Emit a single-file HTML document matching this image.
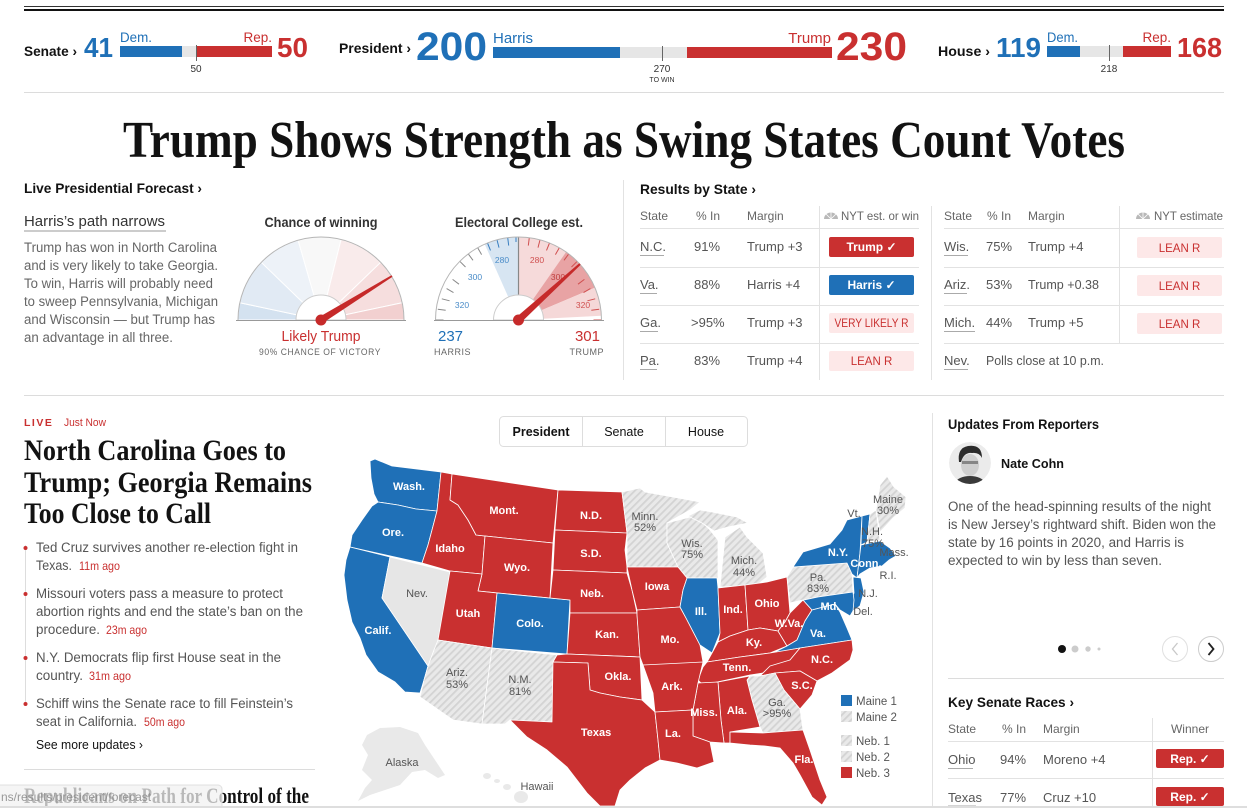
<!DOCTYPE html>
<html><head><meta charset="utf-8"><style>
html,body{margin:0;padding:0;background:#fff;overflow:hidden;width:1247px;height:808px}
svg{display:block}
.w{fill:#fff;font-size:11px;text-anchor:middle;font-weight:bold}
.g{fill:#555;font-size:11px;text-anchor:middle}
.st{stroke:#fff;stroke-width:0.8;stroke-linejoin:round}
.r{fill:#c93030}.b{fill:#1f70b7}.h{fill:url(#hatch)}
.tx{font-size:13px;fill:#555}
.hd{font-size:12px;fill:#666}
.ul{stroke:#aaa;stroke-width:1}
.rl{stroke:#e2e2e2;stroke-width:1}
.vl{stroke:#e2e2e2;stroke-width:1}
.bt{font-size:13.5px;fill:#555}
.tm{font-size:12px;fill:#c93030}
</style></head><body>
<svg width="1247" height="808" viewBox="0 0 1247 808" xmlns="http://www.w3.org/2000/svg" font-family="'Liberation Sans', Arial, sans-serif">
<defs>
<pattern id="hatch" width="5" height="5" patternUnits="userSpaceOnUse" patternTransform="rotate(45)">
<rect width="5" height="5" fill="#e9e9e9"/><rect width="1.8" height="5" fill="#d3d3d3"/>
</pattern>
<clipPath id="av"><circle cx="970" cy="463" r="21"/></clipPath>
</defs>
<rect width="1247" height="808" fill="#fff"/>

<!-- top rules -->
<line x1="24" y1="6.5" x2="1224" y2="6.5" stroke="#333" stroke-width="1"/>
<line x1="24" y1="10" x2="1224" y2="10" stroke="#121212" stroke-width="2"/>

<!-- Senate -->
<text x="24" y="56" font-size="14" font-weight="bold" fill="#121212" textLength="53" lengthAdjust="spacingAndGlyphs">Senate ›</text>
<text x="84" y="57" font-size="28" font-weight="bold" fill="#1f70b7" textLength="29" lengthAdjust="spacingAndGlyphs">41</text>
<text x="120" y="42" font-size="13.5" fill="#1f70b7" textLength="32" lengthAdjust="spacingAndGlyphs">Dem.</text>
<rect x="120" y="46" width="62" height="11" fill="#1f70b7"/>
<rect x="182" y="46" width="14" height="11" fill="#e6e6e6"/>
<rect x="196" y="46" width="76" height="11" fill="#c93030"/>
<line x1="196.5" y1="45" x2="196.5" y2="61" stroke="#666" stroke-width="1"/>
<text x="196" y="72" font-size="10" text-anchor="middle" fill="#333">50</text>
<text x="272" y="42" font-size="13.5" fill="#c93030" text-anchor="end">Rep.</text>
<text x="277" y="57" font-size="28" font-weight="bold" fill="#c93030" textLength="31" lengthAdjust="spacingAndGlyphs">50</text>

<!-- President -->
<text x="339" y="53" font-size="14" font-weight="bold" fill="#121212" textLength="72" lengthAdjust="spacingAndGlyphs">President ›</text>
<text x="416" y="60" font-size="40" font-weight="bold" fill="#1f70b7" textLength="71" lengthAdjust="spacingAndGlyphs">200</text>
<text x="493" y="43" font-size="15" fill="#1f70b7">Harris</text>
<rect x="493" y="47" width="127" height="11" fill="#1f70b7"/>
<rect x="620" y="47" width="67" height="11" fill="#e6e6e6"/>
<rect x="687" y="47" width="145" height="11" fill="#c93030"/>
<line x1="662.5" y1="46" x2="662.5" y2="61" stroke="#666" stroke-width="1"/>
<text x="662" y="72" font-size="10" text-anchor="middle" fill="#333">270</text>
<text x="662" y="82" font-size="7" text-anchor="middle" fill="#333">TO WIN</text>
<text x="831" y="43" font-size="15" fill="#c93030" text-anchor="end">Trump</text>
<text x="836" y="60" font-size="40" font-weight="bold" fill="#c93030" textLength="71" lengthAdjust="spacingAndGlyphs">230</text>

<!-- House -->
<text x="938" y="56" font-size="14" font-weight="bold" fill="#121212" textLength="52" lengthAdjust="spacingAndGlyphs">House ›</text>
<text x="996" y="57" font-size="28" font-weight="bold" fill="#1f70b7" textLength="45" lengthAdjust="spacingAndGlyphs">119</text>
<text x="1047" y="42" font-size="13.5" fill="#1f70b7" textLength="31" lengthAdjust="spacingAndGlyphs">Dem.</text>
<rect x="1047" y="46" width="33" height="11" fill="#1f70b7"/>
<rect x="1080" y="46" width="43" height="11" fill="#e6e6e6"/>
<rect x="1123" y="46" width="48" height="11" fill="#c93030"/>
<line x1="1109.5" y1="45" x2="1109.5" y2="61" stroke="#666" stroke-width="1"/>
<text x="1109" y="72" font-size="10" text-anchor="middle" fill="#333">218</text>
<text x="1171" y="42" font-size="13.5" fill="#c93030" text-anchor="end">Rep.</text>
<text x="1177" y="57" font-size="28" font-weight="bold" fill="#c93030" textLength="45" lengthAdjust="spacingAndGlyphs">168</text>

<line x1="24" y1="92.5" x2="1224" y2="92.5" stroke="#dcdcdc" stroke-width="1"/>

<!-- Headline -->
<text x="123" y="157" font-family="'Liberation Serif', serif" font-weight="bold" font-size="52" fill="#121212" textLength="1002" lengthAdjust="spacingAndGlyphs">Trump Shows Strength as Swing States Count Votes</text>

<!-- Forecast -->
<text x="24" y="193" font-size="14" font-weight="bold" fill="#121212" textLength="178" lengthAdjust="spacingAndGlyphs">Live Presidential Forecast ›</text>
<text x="24" y="226" font-size="15" fill="#333" textLength="141" lengthAdjust="spacingAndGlyphs">Harris’s path narrows</text>
<line x1="24" y1="231" x2="166" y2="231" stroke="#ccc" stroke-width="2"/>
<g font-size="13.5" fill="#666">
<text x="24" y="252" textLength="193" lengthAdjust="spacingAndGlyphs">Trump has won in North Carolina</text>
<text x="24" y="270" textLength="194" lengthAdjust="spacingAndGlyphs">and is very likely to take Georgia.</text>
<text x="24" y="288" textLength="189" lengthAdjust="spacingAndGlyphs">To win, Harris will probably need</text>
<text x="24" y="306" textLength="194" lengthAdjust="spacingAndGlyphs">to sweep Pennsylvania, Michigan</text>
<text x="24" y="324" textLength="191" lengthAdjust="spacingAndGlyphs">and Wisconsin — but Trump has</text>
<text x="24" y="342" textLength="149" lengthAdjust="spacingAndGlyphs">an advantage in all three.</text>
</g>

<!-- Gauge 1 -->
<text x="321" y="227" font-size="14" font-weight="bold" fill="#333" text-anchor="middle" textLength="113" lengthAdjust="spacingAndGlyphs">Chance of winning</text>
<g stroke="#fff" stroke-width="1">
<path d="M321,320 L238,320 A83,83 0 0 1 239.8,302.7 Z" fill="#d4e2f0"/>
<path d="M321,320 L239.8,302.7 A83,83 0 0 1 261.3,262.3 Z" fill="#e1eaf4"/>
<path d="M321,320 L261.3,262.3 A83,83 0 0 1 298.1,240.2 Z" fill="#edf2f8"/>
<path d="M321,320 L298.1,240.2 A83,83 0 0 1 341.1,239.5 Z" fill="#f8f8f8"/>
<path d="M321,320 L341.1,239.5 A83,83 0 0 1 380.7,262.3 Z" fill="#f9ebeb"/>
<path d="M321,320 L380.7,262.3 A83,83 0 0 1 402.2,302.7 Z" fill="#f6dede"/>
<path d="M321,320 L402.2,302.7 A83,83 0 0 1 404,320 Z" fill="#f2d0d0"/>
</g>
<path d="M238,320 A83,83 0 0 1 404,320" fill="none" stroke="#b5b5b5" stroke-width="1"/>
<path d="M296,320 A25,25 0 0 1 346,320 Z" fill="#fff" stroke="#ccc" stroke-width="1"/>
<line x1="236" y1="320.5" x2="406" y2="320.5" stroke="#999" stroke-width="1"/>
<polygon points="322.8,323 319.2,317 391.5,275.2 392.5,276.8" fill="#c62a2a"/>
<circle cx="321" cy="320" r="5.5" fill="#c62a2a"/>
<text x="321" y="341" font-size="15" fill="#c93030" text-anchor="middle" textLength="79" lengthAdjust="spacingAndGlyphs">Likely Trump</text>
<text x="320" y="355" font-size="9" fill="#666" text-anchor="middle" letter-spacing="0.6" textLength="122" lengthAdjust="spacingAndGlyphs">90% CHANCE OF VICTORY</text>

<!-- Gauge 2 -->
<text x="519" y="227" font-size="14" font-weight="bold" fill="#333" text-anchor="middle" textLength="128" lengthAdjust="spacingAndGlyphs">Electoral College est.</text>
<path d="M435.5,320 A83,83 0 0 1 601.5,320 Z" fill="#fff"/>
<path d="M518.5,320 L484.7,244.1 A83,83 0 0 1 518.5,237 Z" fill="#d7e5f2"/>
<path d="M518.5,320 L518.5,237 A83,83 0 0 1 566.1,252 Z" fill="#f6dada"/>
<path d="M518.5,320 L566.1,252 A83,83 0 0 1 595,287.6 Z" fill="#e8a3a4"/>
<path d="M518.5,320 L595,287.6 A83,83 0 0 1 601.4,315.7 Z" fill="#f5d8d8"/>
<g stroke-width="1">
<line x1="435.5" y1="320" x2="443.5" y2="320" stroke="#888"/>
<line x1="437.8" y1="309.2" x2="445.7" y2="310.2" stroke="#888"/>
<line x1="441.8" y1="298.8" x2="449.6" y2="300.8" stroke="#888"/>
<line x1="446.6" y1="288.6" x2="453.5" y2="292.6" stroke="#888"/>
<line x1="452.6" y1="279.4" x2="459" y2="284.2" stroke="#888"/>
<line x1="459.8" y1="261.3" x2="465.5" y2="267" stroke="#888"/>
<line x1="468.2" y1="253.8" x2="473" y2="260.3" stroke="#888"/>
<line x1="477.6" y1="247.6" x2="481.6" y2="254.6" stroke="#888"/>
<line x1="487.5" y1="243" x2="490.5" y2="250.4" stroke="#3a7fc0"/>
<line x1="497" y1="239.9" x2="499" y2="247.6" stroke="#3a7fc0"/>
<line x1="507.7" y1="237.7" x2="508.7" y2="245.6" stroke="#3a7fc0"/>
<line x1="516" y1="237" x2="516" y2="242" stroke="#3a7fc0"/>
<line x1="529.3" y1="237.7" x2="528.3" y2="245.6" stroke="#d05050"/>
<line x1="540" y1="239.9" x2="538" y2="247.6" stroke="#d05050"/>
<line x1="549.5" y1="243" x2="546.5" y2="250.4" stroke="#d05050"/>
<line x1="559.4" y1="247.6" x2="555.4" y2="254.6" stroke="#d05050"/>
<line x1="568.8" y1="253.8" x2="564" y2="260.3" stroke="#d05050"/>
<line x1="577.2" y1="261.3" x2="571.5" y2="267" stroke="#d05050"/>
<line x1="584.4" y1="279.4" x2="578" y2="284.2" stroke="#d05050"/>
<line x1="590.4" y1="288.6" x2="583.5" y2="292.6" stroke="#d05050"/>
<line x1="595.2" y1="298.8" x2="587.4" y2="300.8" stroke="#d05050"/>
<line x1="599.2" y1="309.2" x2="591.3" y2="310.2" stroke="#d05050"/>
<line x1="601.5" y1="320" x2="593.5" y2="320" stroke="#d05050"/>
</g>
<line x1="518.5" y1="237" x2="518.5" y2="320" stroke="#888" stroke-width="1.2"/>
<path d="M435.5,320 A83,83 0 0 1 601.5,320" fill="none" stroke="#b5b5b5" stroke-width="1"/>
<g font-size="8.5" text-anchor="middle">
<text x="502" y="263" fill="#4a8cc8">280</text>
<text x="475" y="280" fill="#4a8cc8">300</text>
<text x="462" y="308" fill="#4a8cc8">320</text>
<text x="537" y="263" fill="#d05050">280</text>
<text x="558" y="280" fill="#c04040">300</text>
<text x="583" y="308" fill="#d05050">320</text>
</g>
<path d="M493.5,320 A25,25 0 0 1 543.5,320 Z" fill="#fff" stroke="#ccc" stroke-width="1"/>
<line x1="434" y1="320.5" x2="604" y2="320.5" stroke="#999" stroke-width="1"/>
<polygon points="520.9,322.6 516.1,317.4 579.3,263.3 580.7,264.7" fill="#c62a2a"/>
<circle cx="518.5" cy="320" r="5.5" fill="#c62a2a"/>
<text x="438" y="341" font-size="15" fill="#1f70b7">237</text>
<text x="434" y="355" font-size="9" fill="#666" letter-spacing="0.5">HARRIS</text>
<text x="600" y="341" font-size="15" fill="#c93030" text-anchor="end">301</text>
<text x="604" y="355" font-size="9" fill="#666" text-anchor="end" letter-spacing="0.5">TRUMP</text>

<!-- Results by state -->
<line x1="623.5" y1="180" x2="623.5" y2="380" class="vl"/>
<text x="640" y="194" font-size="14" font-weight="bold" fill="#121212" textLength="116" lengthAdjust="spacingAndGlyphs">Results by State ›</text>
<line x1="819.5" y1="206" x2="819.5" y2="380" class="vl"/>
<line x1="931.5" y1="206" x2="931.5" y2="380" class="vl"/>
<line x1="1119.5" y1="206" x2="1119.5" y2="343" class="vl"/>
<text x="640" y="220" class="hd">State</text>
<text x="696" y="220" class="hd">% In</text>
<text x="747" y="220" class="hd">Margin</text>
<path d="M824,219 A7,6.5 0 0 1 838,219 Z" fill="#b8b8b8"/>
<path d="M831,219 L826,214 M831,219 L831,212.5 M831,219 L836,214" stroke="#fff" stroke-width="0.8"/>
<text x="841" y="220" class="hd" textLength="78" lengthAdjust="spacingAndGlyphs">NYT est. or win</text>
<text x="944" y="220" class="hd">State</text>
<text x="987" y="220" class="hd">% In</text>
<text x="1028" y="220" class="hd">Margin</text>
<path d="M1136,219 A7,6.5 0 0 1 1150,219 Z" fill="#b8b8b8"/>
<path d="M1143,219 L1138,214 M1143,219 L1143,212.5 M1143,219 L1148,214" stroke="#fff" stroke-width="0.8"/>
<text x="1154" y="220" class="hd" textLength="69" lengthAdjust="spacingAndGlyphs">NYT estimate</text>
<g>
<line x1="640" y1="228.5" x2="919" y2="228.5" class="rl"/>
<line x1="640" y1="267.5" x2="919" y2="267.5" class="rl"/>
<line x1="640" y1="305.5" x2="919" y2="305.5" class="rl"/>
<line x1="640" y1="343.5" x2="919" y2="343.5" class="rl"/>
<line x1="944" y1="228.5" x2="1224" y2="228.5" class="rl"/>
<line x1="944" y1="267.5" x2="1224" y2="267.5" class="rl"/>
<line x1="944" y1="305.5" x2="1224" y2="305.5" class="rl"/>
<line x1="944" y1="343.5" x2="1224" y2="343.5" class="rl"/>
</g>
<!-- left rows -->
<text x="640" y="251" class="tx">N.C.</text><line x1="640" y1="255.5" x2="664" y2="255.5" class="ul"/>
<text x="694" y="251" class="tx">91%</text><text x="747" y="251" class="tx">Trump +3</text>
<rect x="829" y="237" width="85" height="20" rx="2" fill="#c93030"/>
<text x="871.5" y="251" font-size="12" font-weight="bold" fill="#fff" text-anchor="middle">Trump ✓</text>

<text x="640" y="289" class="tx">Va.</text><line x1="640" y1="293.5" x2="657" y2="293.5" class="ul"/>
<text x="694" y="289" class="tx">88%</text><text x="747" y="289" class="tx">Harris +4</text>
<rect x="829" y="275" width="85" height="20" rx="2" fill="#1f70b7"/>
<text x="871.5" y="289" font-size="12" font-weight="bold" fill="#fff" text-anchor="middle">Harris ✓</text>

<text x="640" y="327" class="tx">Ga.</text><line x1="640" y1="331.5" x2="658" y2="331.5" class="ul"/>
<text x="691" y="327" class="tx">&gt;95%</text><text x="747" y="327" class="tx">Trump +3</text>
<rect x="829" y="313" width="85" height="20" rx="2" fill="#fde8e8"/>
<text x="871.5" y="327" font-size="11.5" fill="#c93030" text-anchor="middle" textLength="74" lengthAdjust="spacingAndGlyphs">VERY LIKELY R</text>

<text x="640" y="365" class="tx">Pa.</text><line x1="640" y1="369.5" x2="657" y2="369.5" class="ul"/>
<text x="694" y="365" class="tx">83%</text><text x="747" y="365" class="tx">Trump +4</text>
<rect x="829" y="351" width="85" height="20" rx="2" fill="#fde8e8"/>
<text x="871.5" y="365" font-size="11.5" fill="#c93030" text-anchor="middle">LEAN R</text>
<!-- right rows -->
<text x="944" y="251" class="tx">Wis.</text><line x1="944" y1="255.5" x2="968" y2="255.5" class="ul"/>
<text x="986" y="251" class="tx">75%</text><text x="1028" y="251" class="tx">Trump +4</text>
<rect x="1137" y="237" width="85" height="21" rx="2" fill="#fde8e8"/>
<text x="1179.5" y="252" font-size="11.5" fill="#c93030" text-anchor="middle">LEAN R</text>

<text x="944" y="289" class="tx">Ariz.</text><line x1="944" y1="293.5" x2="967" y2="293.5" class="ul"/>
<text x="986" y="289" class="tx">53%</text><text x="1028" y="289" class="tx" textLength="71" lengthAdjust="spacingAndGlyphs">Trump +0.38</text>
<rect x="1137" y="275" width="85" height="21" rx="2" fill="#fde8e8"/>
<text x="1179.5" y="290" font-size="11.5" fill="#c93030" text-anchor="middle">LEAN R</text>

<text x="944" y="327" class="tx">Mich.</text><line x1="944" y1="331.5" x2="975" y2="331.5" class="ul"/>
<text x="986" y="327" class="tx">44%</text><text x="1028" y="327" class="tx">Trump +5</text>
<rect x="1137" y="313" width="85" height="21" rx="2" fill="#fde8e8"/>
<text x="1179.5" y="328" font-size="11.5" fill="#c93030" text-anchor="middle">LEAN R</text>

<text x="944" y="365" class="tx">Nev.</text><line x1="944" y1="369.5" x2="968" y2="369.5" class="ul"/>
<text x="986" y="365" class="tx" textLength="118" lengthAdjust="spacingAndGlyphs">Polls close at 10 p.m.</text>

<line x1="24" y1="395.5" x2="1224" y2="395.5" stroke="#dcdcdc" stroke-width="1"/>

<!-- Left news column -->
<text x="24" y="426" font-size="10.5" font-weight="bold" fill="#c93030" letter-spacing="1.5">LIVE</text>
<text x="64" y="426" font-size="11" fill="#c93030" textLength="42" lengthAdjust="spacingAndGlyphs">Just Now</text>
<g font-family="'Liberation Serif', serif" font-weight="bold" font-size="30" fill="#121212">
<text x="24" y="460" textLength="262" lengthAdjust="spacingAndGlyphs">North Carolina Goes to</text>
<text x="24" y="492" textLength="288" lengthAdjust="spacingAndGlyphs">Trump; Georgia Remains</text>
<text x="24" y="523" textLength="187" lengthAdjust="spacingAndGlyphs">Too Close to Call</text>
</g>
<line x1="25.5" y1="545" x2="25.5" y2="705" stroke="#ddd" stroke-width="1"/>
<circle cx="25.5" cy="548" r="2" fill="#c93030"/>
<circle cx="25.5" cy="594" r="2" fill="#c93030"/>
<circle cx="25.5" cy="658" r="2" fill="#c93030"/>
<circle cx="25.5" cy="704" r="2" fill="#c93030"/>
<text x="36" y="552" class="bt" textLength="262" lengthAdjust="spacingAndGlyphs">Ted Cruz survives another re-election fight in</text>
<text x="36" y="570" class="bt" textLength="36" lengthAdjust="spacingAndGlyphs">Texas.</text>
<text x="79" y="570" class="tm" textLength="41" lengthAdjust="spacingAndGlyphs">11m ago</text>
<text x="36" y="598" class="bt" textLength="247" lengthAdjust="spacingAndGlyphs">Missouri voters pass a measure to protect</text>
<text x="36" y="616" class="bt" textLength="267" lengthAdjust="spacingAndGlyphs">abortion rights and end the state’s ban on the</text>
<text x="36" y="634" class="bt" textLength="64" lengthAdjust="spacingAndGlyphs">procedure.</text>
<text x="106" y="634" class="tm" textLength="41" lengthAdjust="spacingAndGlyphs">23m ago</text>
<text x="36" y="662" class="bt" textLength="245" lengthAdjust="spacingAndGlyphs">N.Y. Democrats flip first House seat in the</text>
<text x="36" y="680" class="bt" textLength="47" lengthAdjust="spacingAndGlyphs">country.</text>
<text x="89" y="680" class="tm" textLength="42" lengthAdjust="spacingAndGlyphs">31m ago</text>
<text x="36" y="708" class="bt" textLength="257" lengthAdjust="spacingAndGlyphs">Schiff wins the Senate race to fill Feinstein’s</text>
<text x="36" y="726" class="bt" textLength="101" lengthAdjust="spacingAndGlyphs">seat in California.</text>
<text x="144" y="726" class="tm" textLength="41" lengthAdjust="spacingAndGlyphs">50m ago</text>
<text x="36" y="749" font-size="12.5" fill="#121212" textLength="107" lengthAdjust="spacingAndGlyphs">See more updates ›</text>
<line x1="24" y1="769.5" x2="315" y2="769.5" stroke="#dcdcdc" stroke-width="1"/>
<text x="24" y="803" font-family="'Liberation Serif', serif" font-weight="bold" font-size="22" fill="#121212" textLength="285" lengthAdjust="spacingAndGlyphs">Republicans on Path for Control of the</text>
<rect x="-4" y="785" width="226" height="26" rx="4" fill="#f2f2f2" fill-opacity="0.75" stroke="#e0e0e0"/>
<text x="1" y="801" font-size="12" fill="#888" fill-opacity="0.85">ns/results/president/forecast</text>

<!-- Map tabs -->
<rect x="499.5" y="416.5" width="248" height="30" rx="4" fill="#fff" stroke="#ddd"/>
<line x1="582.5" y1="417" x2="582.5" y2="446" stroke="#ddd"/>
<line x1="665.5" y1="417" x2="665.5" y2="446" stroke="#ddd"/>
<text x="541" y="436" font-size="12.5" font-weight="bold" fill="#121212" text-anchor="middle">President</text>
<text x="624" y="436" font-size="12.5" fill="#121212" text-anchor="middle">Senate</text>
<text x="706" y="436" font-size="12.5" fill="#121212" text-anchor="middle">House</text>

<!-- Map -->
<g class="st">
<polygon fill="#e9e9e9" stroke="none" points="367,735 380,728 400,727 418,733 425,745 435,760 445,775 438,778 425,770 412,772 400,785 385,790 370,795 358,801 365,788 372,780 362,770 368,755 362,745"/>
<ellipse cx="487" cy="776" rx="4" ry="3" fill="#e9e9e9" stroke="none"/>
<ellipse cx="497" cy="781" rx="3" ry="2" fill="#e9e9e9" stroke="none"/>
<ellipse cx="507" cy="787" rx="4" ry="3" fill="#e9e9e9" stroke="none"/>
<ellipse cx="521" cy="797" rx="7" ry="6" fill="#e9e9e9" stroke="none"/>
<polygon class="b" points="370,461 375,459 392,466 441,472 437,511 416,509 398,505 378,502 374,494 371,478"/>
<polygon class="b" points="378,502 398,505 416,509 437,511 432,530 428,545 422,563 350,547 352,535 362,520 372,506"/>
<polygon class="b" points="350,547 390,557 382,598 428,666 424,680 420,693 405,692 395,682 378,672 366,655 360,638 352,622 347,600 344,575 346,560"/>
<polygon fill="#e6e6e6" points="390,557 450,572 440,638 434,650 428,666 382,598"/>
<polygon class="r" points="441,472 452,474 450,500 458,505 468,520 476,535 485,536 482,574 450,571 422,563 428,545 432,530 437,511"/>
<polygon class="r" points="452,474 558,490 553,543 485,536 476,535 468,520 458,505 450,500"/>
<polygon class="r" points="485,536 553,543 550,598 478,591 482,574"/>
<polygon class="r" points="450,571 482,574 478,591 497,593 492,648 438,640"/>
<polygon class="b" points="497,593 570,600 567,654 492,648"/>
<polygon class="h" points="438,640 492,648 482,724 453,720 420,697 424,680 428,666 434,650"/>
<polygon class="h" points="492,648 557,655 552,722 510,720 505,724 482,724"/>
<polygon class="r" points="558,490 622,492 627,533 555,530"/>
<polygon class="r" points="555,530 627,533 625,550 627,567 627,573 553,570"/>
<polygon class="r" points="553,570 627,573 632,590 637,613 570,613 570,600 550,598"/>
<polygon class="r" points="570,613 637,613 640,657 567,654"/>
<polygon class="r" points="557,655 567,654 640,657 642,700 620,697 600,693 590,690 588,663 553,662"/>
<polygon class="r" points="553,662 588,663 590,690 600,693 620,697 642,700 655,712 658,740 660,760 645,768 630,780 620,790 615,806 600,806 587,793 567,767 547,750 527,737 510,720 552,722"/>
<polygon class="h" points="622,492 640,488 645,492 673,497 700,502 690,510 667,523 667,543 678,567 627,567 627,533"/>
<polygon class="h" points="667,523 690,517 700,520 710,530 718,540 718,578 687,578 678,567 667,543"/>
<polygon class="h" points="688,516 700,510 712,512 737,517 748,523 728,527 714,531 702,523"/>
<polygon class="h" points="725,537 740,527 747,537 763,553 767,577 757,585 720,587"/>
<polygon class="r" points="627,567 678,567 687,578 683,590 680,607 637,610 632,590"/>
<polygon class="r" points="637,610 680,607 686,618 700,645 703,662 696,666 643,665 640,657 637,615"/>
<polygon class="b" points="687,578 717,578 718,588 720,633 712,653 700,645 686,618 680,607 683,590"/>
<polygon class="r" points="718,588 745,585 748,630 730,636 718,642 720,633"/>
<polygon class="r" points="745,585 767,582 787,577 790,613 785,622 778,631 760,628 748,630"/>
<polygon class="r" points="718,642 730,636 748,630 760,628 778,631 787,646 770,653 740,657 707,662 712,653"/>
<polygon class="r" points="790,613 803,600 812,610 805,621 797,640 787,646 778,631 785,622"/>
<polygon class="h" points="787,577 793,567 847,563 852,574 853,592 818,597 790,603"/>
<polygon class="b" points="793,567 803,552 830,544 842,530 847,520 862,516 861,535 860,553 857,578 852,574 847,563"/>
<polygon class="b" points="862,516 870,514 867,542 861,545"/>
<polygon class="h" points="870,514 876,510 880,540 867,542"/>
<polygon class="h" points="876,510 880,485 887,476 894,487 906,497 905,508 893,518 884,528 880,532"/>
<polygon class="b" points="861,545 880,541 890,548 896,556 889,560 882,566 870,568 860,574 857,578 860,553"/>
<polygon class="b" points="853,577 861,578 864,592 860,606 853,611 849,602 854,593"/>
<polygon class="b" points="790,603 818,597 853,592 854,600 853,611 850,616 840,610 835,604 812,610 803,600"/>
<polygon class="b" points="773,653 787,646 797,640 805,621 812,610 835,604 840,612 847,628 852,640 800,648"/>
<polygon class="r" points="707,662 740,657 770,653 800,648 790,660 770,672 750,675 703,685 698,680 703,667"/>
<polygon class="r" points="800,648 852,640 853,650 850,660 832,673 817,681 800,671 775,673 760,676 770,666 790,660"/>
<polygon class="r" points="775,673 800,671 817,681 812,695 800,709 784,690"/>
<polygon class="h" points="750,676 760,676 775,673 784,690 800,709 803,730 763,733 760,727 752,700 747,680"/>
<polygon class="r" points="718,682 750,676 747,680 752,700 760,727 730,732 730,743 724,743 721,720"/>
<polygon class="r" points="698,683 718,682 721,720 724,743 710,742 693,736 693,710"/>
<polygon class="r" points="643,665 703,662 698,683 693,710 655,712 653,693"/>
<polygon class="r" points="655,712 693,710 693,736 710,742 714,762 697,768 677,763 660,760 658,740"/>
<polygon class="r" points="730,732 763,733 803,730 810,750 820,780 827,797 822,805 812,797 800,775 793,763 780,748 765,746 750,745 730,743"/>
</g>
<!-- map labels -->
<text x="409" y="490" class="w">Wash.</text>
<text x="393" y="536" class="w">Ore.</text>
<text x="378" y="634" class="w">Calif.</text>
<text x="417" y="597" class="g">Nev.</text>
<text x="450" y="552" class="w">Idaho</text>
<text x="504" y="514" class="w">Mont.</text>
<text x="517" y="571" class="w">Wyo.</text>
<text x="468" y="617" class="w">Utah</text>
<text x="530" y="627" class="w">Colo.</text>
<text x="457" y="676" class="g">Ariz.</text><text x="457" y="688" class="g">53%</text>
<text x="520" y="683" class="g">N.M.</text><text x="520" y="695" class="g">81%</text>
<text x="591" y="519" class="w">N.D.</text>
<text x="591" y="557" class="w">S.D.</text>
<text x="592" y="597" class="w">Neb.</text>
<text x="607" y="638" class="w">Kan.</text>
<text x="618" y="680" class="w">Okla.</text>
<text x="596" y="736" class="w">Texas</text>
<text x="645" y="520" class="g">Minn.</text><text x="645" y="531" class="g">52%</text>
<text x="692" y="547" class="g">Wis.</text><text x="692" y="558" class="g">75%</text>
<text x="744" y="564" class="g">Mich.</text><text x="744" y="576" class="g">44%</text>
<text x="657" y="590" class="w">Iowa</text>
<text x="701" y="615" class="w">Ill.</text>
<text x="733" y="613" class="w">Ind.</text>
<text x="767" y="607" class="w">Ohio</text>
<text x="670" y="643" class="w">Mo.</text>
<text x="754" y="646" class="w">Ky.</text>
<text x="789" y="627" class="w">W.Va.</text>
<text x="818" y="637" class="w">Va.</text>
<text x="737" y="671" class="w">Tenn.</text>
<text x="822" y="663" class="w">N.C.</text>
<text x="802" y="689" class="w">S.C.</text>
<text x="672" y="690" class="w">Ark.</text>
<text x="704" y="716" class="w">Miss.</text>
<text x="737" y="714" class="w">Ala.</text>
<text x="777" y="706" class="g">Ga.</text><text x="777" y="717" class="g">&gt;95%</text>
<text x="673" y="737" class="w">La.</text>
<text x="804" y="763" class="w">Fla.</text>
<text x="818" y="581" class="g">Pa.</text><text x="818" y="592" class="g">83%</text>
<text x="838" y="556" class="w">N.Y.</text>
<text x="866" y="567" class="w">Conn.</text>
<text x="830" y="610" class="w">Md.</text>
<text x="854" y="517" class="g">Vt.</text>
<text x="888" y="503" class="g">Maine</text><text x="888" y="514" class="g">30%</text>
<text x="872" y="535" class="g">N.H.</text><text x="873" y="547" class="g">75%</text>
<text x="894" y="556" class="g">Mass.</text>
<text x="888" y="579" class="g">R.I.</text>
<text x="868" y="597" class="g">N.J.</text>
<text x="863" y="615" class="g">Del.</text>
<text x="402" y="766" class="g">Alaska</text>
<text x="537" y="790" class="g">Hawaii</text>
<!-- legend -->
<rect x="841" y="695" width="11" height="11" class="b"/>
<rect x="841" y="711" width="11" height="11" class="h"/>
<rect x="841" y="735" width="11" height="11" class="h"/>
<rect x="841" y="751" width="11" height="11" class="h"/>
<rect x="841" y="767" width="11" height="11" class="r"/>
<g font-size="11.5" fill="#555">
<text x="856" y="705">Maine 1</text>
<text x="856" y="721">Maine 2</text>
<text x="856" y="745">Neb. 1</text>
<text x="856" y="761">Neb. 2</text>
<text x="856" y="777">Neb. 3</text>
</g>

<!-- Right column -->
<line x1="932.5" y1="413" x2="932.5" y2="808" stroke="#e2e2e2" stroke-width="1"/>
<text x="948" y="429" font-size="13.5" font-weight="bold" fill="#121212" textLength="151" lengthAdjust="spacingAndGlyphs">Updates From Reporters</text>
<g clip-path="url(#av)">
<circle cx="970" cy="463" r="21" fill="#ebebeb"/>
<path d="M950,490 Q955,476 970,476 Q985,476 990,490 Z" fill="#3a3a3a"/>
<ellipse cx="970" cy="465" rx="9" ry="11" fill="#cfcfcf"/>
<path d="M959,462 Q957,448 968,446 Q982,444 982,458 Q979,452 972,453 Q964,452 961,462 Z" fill="#2b2b2b"/>
<rect x="962" y="461" width="16" height="3" fill="#555" opacity="0.6"/>
</g>
<text x="1001" y="468" font-size="13" font-weight="bold" fill="#121212" textLength="63" lengthAdjust="spacingAndGlyphs">Nate Cohn</text>
<g font-size="13.5" fill="#555">
<text x="948" y="511" textLength="263" lengthAdjust="spacingAndGlyphs">One of the head-spinning results of the night</text>
<text x="948" y="529" textLength="268" lengthAdjust="spacingAndGlyphs">is New Jersey’s rightward shift. Biden won the</text>
<text x="948" y="547" textLength="236" lengthAdjust="spacingAndGlyphs">state by 16 points in 2020, and Harris is</text>
<text x="948" y="565" textLength="214" lengthAdjust="spacingAndGlyphs">expected to win by less than seven.</text>
</g>
<circle cx="1062" cy="649" r="4" fill="#121212"/>
<circle cx="1075" cy="649" r="3.5" fill="#ccc"/>
<circle cx="1088" cy="649" r="2.7" fill="#ccc"/>
<circle cx="1099" cy="649" r="1.5" fill="#ccc"/>
<circle cx="1175" cy="649" r="12.5" fill="#fff" stroke="#e0e0e0"/>
<polyline points="1177.5,643 1172.5,649 1177.5,655" fill="none" stroke="#c8c8c8" stroke-width="1.3"/>
<circle cx="1211" cy="649" r="12.5" fill="#fff" stroke="#ccc"/>
<polyline points="1208.5,643 1213.5,649 1208.5,655" fill="none" stroke="#222" stroke-width="1.8"/>
<line x1="948" y1="678.5" x2="1224" y2="678.5" stroke="#dcdcdc" stroke-width="1"/>
<text x="948" y="707" font-size="14" font-weight="bold" fill="#121212" textLength="126" lengthAdjust="spacingAndGlyphs">Key Senate Races ›</text>
<line x1="1152.5" y1="718" x2="1152.5" y2="808" class="vl"/>
<text x="948" y="733" class="hd">State</text>
<text x="1002" y="733" class="hd">% In</text>
<text x="1043" y="733" class="hd">Margin</text>
<text x="1190" y="733" class="hd" text-anchor="middle">Winner</text>
<line x1="948" y1="741.5" x2="1224" y2="741.5" class="rl"/>
<text x="948" y="764" class="tx">Ohio</text><line x1="948" y1="768.5" x2="973" y2="768.5" class="ul"/>
<text x="1000" y="764" class="tx">94%</text>
<text x="1043" y="764" class="tx">Moreno +4</text>
<rect x="1156" y="749" width="68" height="19" rx="2" fill="#c93030"/>
<text x="1190" y="763" font-size="12" font-weight="bold" fill="#fff" text-anchor="middle">Rep. ✓</text>
<line x1="948" y1="778.5" x2="1224" y2="778.5" class="rl"/>
<text x="948" y="802" class="tx">Texas</text><line x1="948" y1="806" x2="976" y2="806" class="ul"/>
<text x="1000" y="802" class="tx">77%</text>
<text x="1043" y="802" class="tx">Cruz +10</text>
<rect x="1156" y="787" width="68" height="19" rx="2" fill="#c93030"/>
<text x="1190" y="801" font-size="12" font-weight="bold" fill="#fff" text-anchor="middle">Rep. ✓</text>

<rect x="0" y="806" width="1247" height="2" fill="#dedede"/>
</svg>
</body></html>
